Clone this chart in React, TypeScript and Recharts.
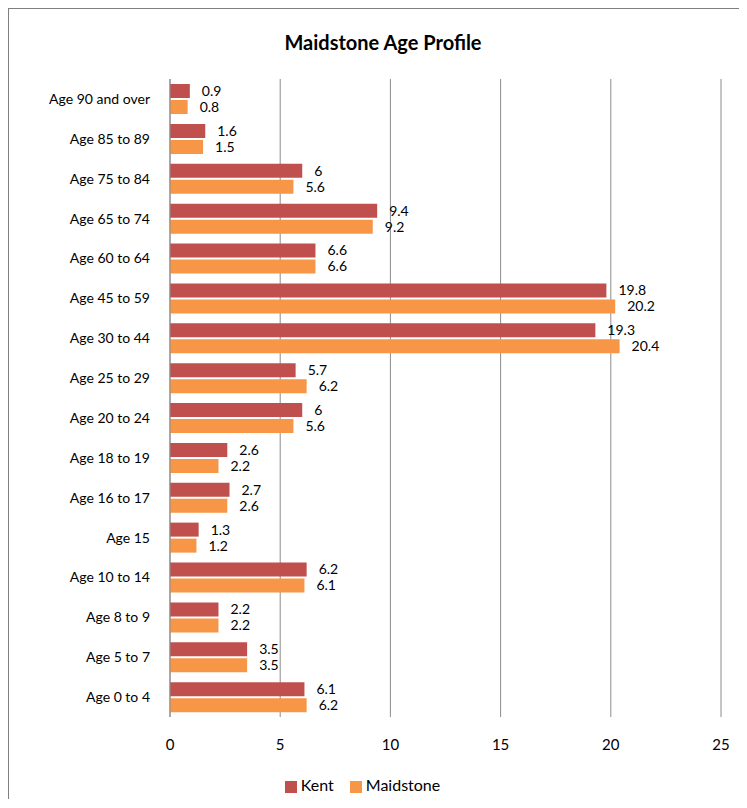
import React from "react";
import {
  BarChart,
  Bar,
  XAxis,
  YAxis,
  CartesianGrid,
  Legend,
  LabelList,
} from "recharts";

const ageGroups = [
  "Age 90 and over",
  "Age 85 to 89",
  "Age 75 to 84",
  "Age 65 to 74",
  "Age 60 to 64",
  "Age 45 to 59",
  "Age 30 to 44",
  "Age 25 to 29",
  "Age 20 to 24",
  "Age 18 to 19",
  "Age 16 to 17",
  "Age 15",
  "Age 10 to 14",
  "Age 8 to 9",
  "Age 5 to 7",
  "Age 0 to 4",
];

const kent = [0.9, 1.6, 6, 9.4, 6.6, 19.8, 19.3, 5.7, 6, 2.6, 2.7, 1.3, 6.2, 2.2, 3.5, 6.1];
const maidstone = [0.8, 1.5, 5.6, 9.2, 6.6, 20.2, 20.4, 6.2, 5.6, 2.2, 2.6, 1.2, 6.1, 2.2, 3.5, 6.2];

const xTicks = [0, 5, 10, 15, 20, 25];

const data = ageGroups.map((age, i) => ({
  age,
  Kent: kent[i],
  Maidstone: maidstone[i],
}));

const font = "Lato, 'Open Sans', sans-serif";

export default function App() {
  return (
    <div
      style={{
        position: "relative",
        width: 730,
        height: 790,
        overflow: "hidden",
        borderTop: "1px solid #7f7f7f",
        borderLeft: "2px solid #7f7f7f",
        marginLeft: -1,
        fontFamily: font,
        background: "#fff",
      }}
    >
      <style>{"html,body{overflow:hidden}"}</style>
      <div
        style={{
          position: "absolute",
          top: 21,
          left: 0,
          width: 748,
          textAlign: "center",
          fontWeight: "bold",
          fontSize: 20,
          color: "#000",
        }}
      >
        Maidstone Age Profile
      </div>
      <BarChart
        layout="vertical"
        width={738}
        height={790}
        data={data}
        margin={{ top: 70, right: 26, left: 11, bottom: 5 }}
        barCategoryGap={5}
        barGap={2}
      >
        <CartesianGrid horizontal={false} verticalValues={xTicks} stroke="#8c8c8c" />
        <XAxis
          type="number"
          domain={[0, 25]}
          ticks={xTicks}
          axisLine={false}
          tickLine={false}
          tickMargin={16}
          height={58}
          tick={{ fill: "#000", fontSize: 15, fontFamily: font }}
        />
        <YAxis
          type="category"
          dataKey="age"
          width={150}
          axisLine={{ stroke: "#8c8c8c" }}
          tickLine={false}
          tickMargin={14}
          tick={{ fill: "#000", fontSize: 14, fontFamily: font }}
        />
        <Legend
          verticalAlign="bottom"
          iconType="square"
          iconSize={12}
          wrapperStyle={{ fontSize: 16, fontFamily: font, color: "#000" }}
          formatter={(v) => <span style={{ color: "#000", marginRight: 6 }}>{v}</span>}
        />
        <Bar dataKey="Kent" fill="#c0504d" barSize={14} isAnimationActive={false}>
          <LabelList dataKey="Kent" position="right" offset={12} fill="#000" fontSize={14} fontFamily={font} />
        </Bar>
        <Bar dataKey="Maidstone" fill="#f79646" barSize={14} isAnimationActive={false}>
          <LabelList dataKey="Maidstone" position="right" offset={12} fill="#000" fontSize={14} fontFamily={font} />
        </Bar>
      </BarChart>
    </div>
  );
}
